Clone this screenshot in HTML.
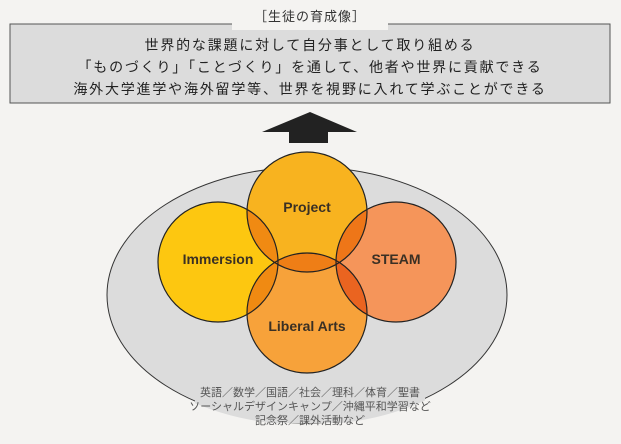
<!DOCTYPE html>
<html><head><meta charset="utf-8"><style>
body{margin:0;width:621px;height:444px;background:#f4f3f1;overflow:hidden;font-family:"Liberation Sans","Noto Sans CJK JP",sans-serif;}
</style></head><body>
<svg width="621" height="444" viewBox="0 0 621 444" xmlns="http://www.w3.org/2000/svg" style="position:absolute;left:0;top:0">
<defs>
<clipPath id="cP"><circle cx="307" cy="212" r="60"/></clipPath>
<clipPath id="cL"><circle cx="307" cy="313" r="60"/></clipPath>
<clipPath id="cE"><ellipse cx="307" cy="295" rx="202" ry="130"/></clipPath>
</defs>
<rect x="10" y="24" width="600" height="79" fill="#dcdcdc" stroke="#555" stroke-width="1"/>
<rect x="232" y="18" width="156" height="12" fill="#f4f3f1"/>
<text x="310" y="21" font-size="13" text-anchor="middle" fill="#333" letter-spacing="1">［生徒の育成像］</text>
<g font-size="14" text-anchor="middle" fill="#222" letter-spacing="1.8">
<text x="310" y="50">世界的な課題に対して自分事として取り組める</text>
<text x="310" y="72">「ものづくり」「ことづくり」を通して、他者や世界に貢献できる</text>
<text x="310" y="94">海外大学進学や海外留学等、世界を視野に入れて学ぶことができる</text>
</g>
<polygon points="310,112 357,132 328,132 328,143 289,143 289,132 262,132" fill="#222"/>
<ellipse cx="307" cy="295" rx="200" ry="128" fill="#dcdcdc" stroke="#333" stroke-width="1"/>
<rect x="195" y="383" width="230" height="40" fill="#dcdcdc" clip-path="url(#cE)"/>
<circle cx="218" cy="262" r="60" fill="#fdc710"/>
<circle cx="396" cy="262" r="60" fill="#f5955a"/>
<circle cx="307" cy="212" r="60" fill="#f8b31f"/>
<circle cx="307" cy="313" r="60" fill="#f7a23a"/>
<g clip-path="url(#cP)"><circle cx="218" cy="262" r="60" fill="#f08a12"/><circle cx="396" cy="262" r="60" fill="#ee7618"/><circle cx="307" cy="313" r="60" fill="#ef7e16"/></g>
<g clip-path="url(#cL)"><circle cx="218" cy="262" r="60" fill="#f08a12"/><circle cx="396" cy="262" r="60" fill="#ea6420"/></g>
<g fill="none" stroke="#222" stroke-width="1.2">
<circle cx="218" cy="262" r="60"/><circle cx="396" cy="262" r="60"/><circle cx="307" cy="212" r="60"/><circle cx="307" cy="313" r="60"/>
</g>
<g font-size="14" font-weight="bold" text-anchor="middle" fill="#3a3024">
<text x="307" y="212">Project</text>
<text x="218" y="264">Immersion</text>
<text x="396" y="264">STEAM</text>
<text x="307" y="331">Liberal Arts</text>
</g>
<g font-size="11" text-anchor="middle" fill="#555">
<text x="310" y="396">英語／数学／国語／社会／理科／体育／聖書</text>
<text x="310" y="410">ソーシャルデザインキャンプ／沖縄平和学習など</text>
<text x="310" y="424">記念祭／課外活動など</text>
</g>
</svg>
</body></html>
